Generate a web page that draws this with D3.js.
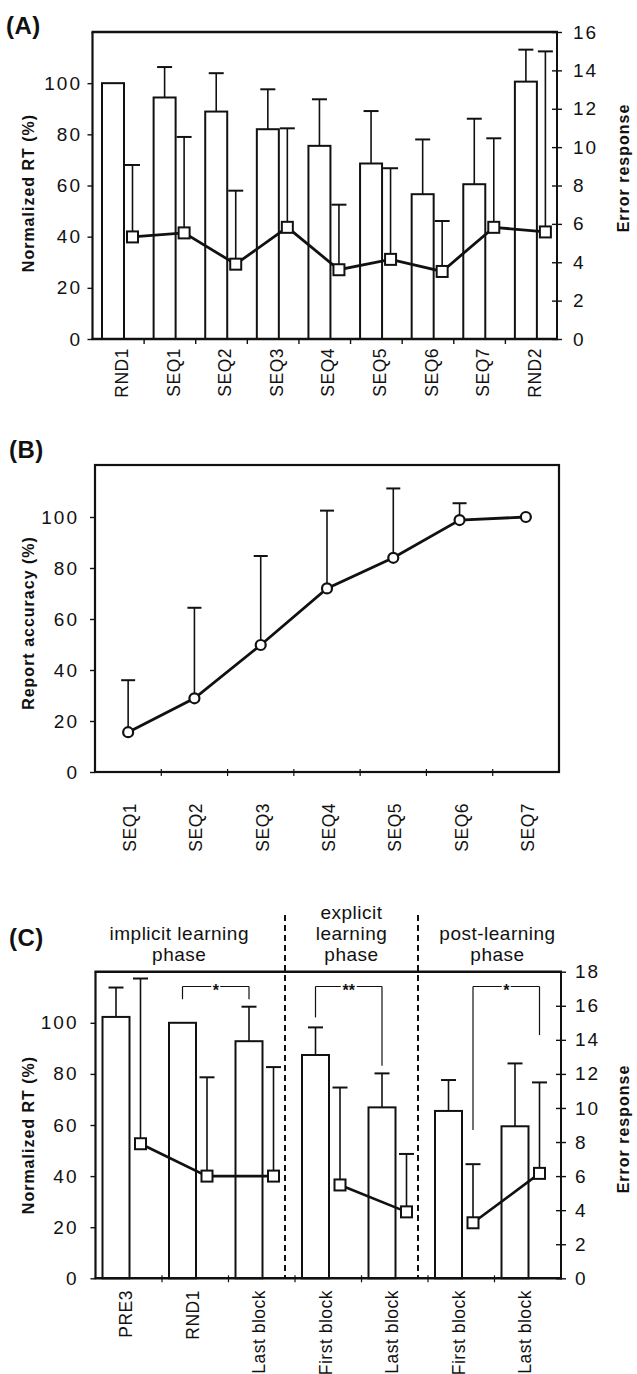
<!DOCTYPE html>
<html><head><meta charset="utf-8">
<script src="https://cdn.jsdelivr.net/npm/d3@7"></script>
<style>
body{margin:0;background:#fff}
svg{display:block}
text{font-family:"Liberation Sans",Arial,Helvetica,sans-serif}
</style>
</head><body>
<svg id="c" width="637" height="1374"></svg>
<script>
// ---------------- DATA ----------------
// Panel A
const catsA = ["RND1","SEQ1","SEQ2","SEQ3","SEQ4","SEQ5","SEQ6","SEQ7","RND2"];
const rtA   = [100, 94.4, 88.9, 82.0, 75.5, 68.6, 56.6, 60.5, 100.6];      // Normalized RT (%)
const rtSdA = [0, 11.9, 15.0, 15.6, 18.2, 20.5, 21.4, 25.6, 12.5];
const errA  = [5.32, 5.53, 3.9, 5.82, 3.61, 4.15, 3.52, 5.82, 5.58];       // Error response
const errSdA= [3.75, 5.0, 3.83, 5.16, 3.39, 4.75, 2.63, 4.64, 9.41];
const yTicksA  = [0,20,40,60,80,100];
const y2TicksA = [0,2,4,6,8,10,12,14,16];

// Panel B
const catsB  = ["SEQ1","SEQ2","SEQ3","SEQ4","SEQ5","SEQ6","SEQ7"];
const accB   = [15.6, 28.9, 49.8, 72.0, 84.0, 98.8, 100];                   // Report accuracy (%)
const accSdB = [20.4, 35.5, 34.9, 30.5, 27.2, 6.6, 0];
const yTicksB = [0,20,40,60,80,100];

// Panel C
const catsC  = ["PRE3","RND1","Last block","First block","Last block","First block","Last block"];
const rtC    = [102.3, 100, 92.8, 87.4, 66.9, 65.5, 59.5];
const rtSdC  = [11.5, 0, 13.5, 10.8, 13.3, 12.1, 24.6];
const errC   = [7.9, 6.0, 6.0, 5.48, 3.9, 3.26, 6.16];
const errSdC = [9.7, 5.8, 6.4, 5.72, 3.4, 3.44, 5.34];
const phaseNamesC = [["implicit learning","phase"],["explicit","learning","phase"],["post-learning","phase"]];
const phaseSizesC = [3,2,2];
const yTicksC  = [0,20,40,60,80,100];
const y2TicksC = [0,2,4,6,8,10,12,14,16,18];
// significance brackets (ends given in left-axis % units)
const sigFromC  = [1,3,5];
const sigToC    = [2,4,6];
const sigLabelC = ["*","**","*"];
const sigSeriesC= ["rt","rt","err"];
const sigFromEndC = [109.2, 102.1, 58];
const sigToEndC   = [109.2, 83.2, 95.2];
const sigTopC = 114.2;

// ---------------- DRAW ----------------
const ink = "#111";
const FONT = '"Liberation Sans",Arial,Helvetica,sans-serif';
const svg = d3.select("#c");
svg.append("rect").attr("width",637).attr("height",1374).attr("fill","#fff");

function line(g,x1,y1,x2,y2,w,dash){
  const l = g.append("line").attr("x1",x1).attr("y1",y1).attr("x2",x2).attr("y2",y2)
    .attr("stroke",ink).attr("stroke-width",w);
  if(dash) l.attr("stroke-dasharray",dash);
  return l;
}
function errBar(g,cx,y0,y1,cap){
  line(g,cx,y0,cx,y1,1.6);
  line(g,cx-cap,y1,cx+cap,y1,2);
}
function styleAxis(g,size,ls){
  g.attr("font-family",FONT).attr("font-size",size).attr("color",ink);
  g.select(".domain").remove();
  g.selectAll("text").attr("letter-spacing",ls);
  g.selectAll("line").attr("stroke-width",1.4);
}
function xLabels(g,cats,xf,y){
  g.selectAll("text.xl").data(cats).join("text").attr("class","xl")
    .attr("transform",(d,i)=>`translate(${xf(i)},${y}) rotate(-90)`)
    .attr("text-anchor","end").attr("font-size",17.5).attr("letter-spacing",0.5)
    .attr("fill",ink).text(d=>d);
}
function vTitle(x,y,txt,size){
  svg.append("text").attr("transform",`translate(${x},${y}) rotate(-90)`)
    .attr("text-anchor","middle").attr("font-weight","bold").attr("font-size",size)
    .attr("letter-spacing",1).attr("fill",ink).text(txt);
}
function panelLabel(x,y,t){
  svg.append("text").attr("x",x).attr("y",y).attr("font-weight","bold")
    .attr("font-size",24).attr("letter-spacing",0.5).attr("fill",ink).text(t);
}

// ===== Panel A =====
{
  const L=92.5,R=557,T=32,B=339;
  const g = svg.append("g");
  const x = d3.scaleBand().domain(d3.range(catsA.length)).range([L,R]);
  const y = d3.scaleLinear().domain([0,120]).range([B,T]);
  const y2 = d3.scaleLinear().domain([0,16]).range([B,T]);
  const barX = i=>x(i)+9.5, barW=22, sqX = i=>x(i)+40;

  g.selectAll("rect.bar").data(rtA).join("rect").attr("class","bar")
    .attr("x",(d,i)=>barX(i)).attr("width",barW)
    .attr("y",d=>y(d)).attr("height",d=>B-y(d))
    .attr("fill","#fff").attr("stroke",ink).attr("stroke-width",2);
  rtA.forEach((d,i)=>{ if(rtSdA[i]>0) errBar(g,barX(i)+barW/2,y(d),y(d+rtSdA[i]),7.5); });
  errA.forEach((d,i)=>{ if(errSdA[i]>0) errBar(g,sqX(i),y2(d),y2(d+errSdA[i]),7.5); });
  g.append("path").datum(errA)
    .attr("d",d3.line().x((d,i)=>sqX(i)).y(d=>y2(d)))
    .attr("fill","none").attr("stroke",ink).attr("stroke-width",2.8);
  g.selectAll("rect.sq").data(errA).join("rect").attr("class","sq")
    .attr("x",(d,i)=>sqX(i)-5.5).attr("y",d=>y2(d)-5.5).attr("width",11).attr("height",11)
    .attr("fill","#fff").attr("stroke",ink).attr("stroke-width",2);

  // frame
  line(g,L-1,T,R+1,T,2.6);
  line(g,L,T,L,B,2.2);
  line(g,R,T,R,B+1,2);
  line(g,L-1,B,R+1,B,2.6);
  d3.range(1,catsA.length).forEach(i=>line(g,x(i),B,x(i),B+5,1.4));

  const ga = svg.append("g").attr("transform",`translate(${L},0)`)
    .call(d3.axisLeft(y).tickValues(yTicksA).tickSize(5).tickPadding(5.5));
  styleAxis(ga,19,2);
  const gb = svg.append("g").attr("transform",`translate(${R},0)`)
    .call(d3.axisRight(y2).tickValues(y2TicksA).tickSize(5).tickPadding(11));
  styleAxis(gb,19,2);
  gb.selectAll(".tick line").attr("x1",-5);

  xLabels(g,catsA,i=>x(i)+35.5,348);
  vTitle(34,193,"Normalized RT (%)",16);
  vTitle(629,168,"Error response",16);
  panelLabel(6,34,"(A)");
}

// ===== Panel B =====
{
  const L=95,R=559,T=465,B=772;
  const g = svg.append("g");
  const x = d3.scaleBand().domain(d3.range(catsB.length)).range([L,R]);
  const y = d3.scaleLinear().domain([0,120]).range([B,T+1]);
  const cx = i=>x(i)+x.bandwidth()/2;

  accB.forEach((d,i)=>{ if(accSdB[i]>0) errBar(g,cx(i),y(d),y(d+accSdB[i]),7); });
  g.append("path").datum(accB)
    .attr("d",d3.line().x((d,i)=>cx(i)).y(d=>y(d)))
    .attr("fill","none").attr("stroke",ink).attr("stroke-width",2.8);
  g.selectAll("circle").data(accB).join("circle")
    .attr("cx",(d,i)=>cx(i)).attr("cy",d=>y(d)).attr("r",5)
    .attr("fill","#fff").attr("stroke",ink).attr("stroke-width",2.2);

  g.append("rect").attr("x",L).attr("y",T).attr("width",R-L).attr("height",B-T)
    .attr("fill","none").attr("stroke",ink).attr("stroke-width",2.2);
  d3.range(1,catsB.length).forEach(i=>line(g,x(i),B-3,x(i),B+4,1.2));

  const ga = svg.append("g").attr("transform",`translate(${L},0)`)
    .call(d3.axisLeft(y).tickValues(yTicksB).tickSize(5).tickPadding(11));
  styleAxis(ga,19,2);

  xLabels(g,catsB,i=>cx(i)+8,803);
  vTitle(34,623,"Report accuracy (%)",16);
  panelLabel(9,458,"(B)");
}

// ===== Panel C =====
{
  const L=95.5,R=561,T=971.7,B=1278.3;
  const g = svg.append("g");
  const x = d3.scaleBand().domain(d3.range(catsC.length)).range([L,R]);
  const y = d3.scaleLinear().domain([0,120]).range([B,T]);
  const y2 = d3.scaleLinear().domain([0,18]).range([B,T]);
  const barX = i=>x(i)+7, barW=27, sqX = i=>x(i)+45;
  const barC = i=>barX(i)+barW/2;

  g.selectAll("rect.bar").data(rtC).join("rect").attr("class","bar")
    .attr("x",(d,i)=>barX(i)).attr("width",barW)
    .attr("y",d=>y(d)).attr("height",d=>B-y(d))
    .attr("fill","#fff").attr("stroke",ink).attr("stroke-width",2);
  rtC.forEach((d,i)=>{ if(rtSdC[i]>0) errBar(g,barC(i),y(d),y(d+rtSdC[i]),7.5); });
  errC.forEach((d,i)=>{ if(errSdC[i]>0) errBar(g,sqX(i),y2(d),y2(d+errSdC[i]),7.5); });

  let start=0;
  const bounds=[];
  phaseSizesC.forEach((n,p)=>{
    const idx=d3.range(start,start+n);
    g.append("path").datum(idx)
      .attr("d",d3.line().x(i=>sqX(i)).y(i=>y2(errC[i])))
      .attr("fill","none").attr("stroke",ink).attr("stroke-width",2.6);
    bounds.push([start,start+n-1]);
    start+=n;
  });
  g.selectAll("rect.sq").data(errC).join("rect").attr("class","sq")
    .attr("x",(d,i)=>sqX(i)-5.5).attr("y",d=>y2(d)-5.5).attr("width",11).attr("height",11)
    .attr("fill","#fff").attr("stroke",ink).attr("stroke-width",2);

  line(g,L-1,T,R+1,T,2.6);
  line(g,L,T,L,B,2.2);
  line(g,R,T,R,B+1,2);
  line(g,L-1,B,R+1,B,2.6);
  d3.range(1,catsC.length).forEach(i=>line(g,x(i),B-3,x(i),B+4,1.2));

  const divX = [];
  bounds.slice(1).forEach(b=>{
    const dx = x(b[0])-10;
    divX.push(dx);
    line(g,dx,915,dx,B,2,"6,4");
  });
  const edges=[L,...divX,R];
  const hdDx=[-11,0,8];
  phaseNamesC.forEach((lines,p)=>{
    const cxh=(edges[p]+edges[p+1])/2+hdDx[p];
    lines.forEach((t,k)=>{
      svg.append("text").attr("x",cxh).attr("y",961-(lines.length-1-k)*21)
        .attr("text-anchor","middle").attr("font-size",19).attr("letter-spacing",0.5)
        .attr("fill",ink).text(t);
    });
  });

  sigFromC.forEach((a,k)=>{
    const b=sigToC[k];
    const xa = sigSeriesC[k]==="rt"?barC(a):sqX(a);
    const xb = sigSeriesC[k]==="rt"?barC(b):sqX(b);
    const yt=y(sigTopC);
    line(g,xa,yt,xb,yt,1.2);
    line(g,xa,yt,xa,y(sigFromEndC[k]),1.2);
    line(g,xb,yt,xb,y(sigToEndC[k]),1.2);
    const mx=(xa+xb)/2, w=sigLabelC[k].length*7+2;
    g.append("rect").attr("x",mx-w/2).attr("y",yt-3).attr("width",w).attr("height",6).attr("fill","#fff");
    g.append("text").attr("x",mx).attr("y",yt+9).attr("text-anchor","middle")
      .attr("font-size",16).attr("font-weight","bold").attr("fill",ink).text(sigLabelC[k]);
  });

  const ga = svg.append("g").attr("transform",`translate(${L},0)`)
    .call(d3.axisLeft(y).tickValues(yTicksC).tickSize(5).tickPadding(12));
  styleAxis(ga,19,2);
  const gb = svg.append("g").attr("transform",`translate(${R},0)`)
    .call(d3.axisRight(y2).tickValues(y2TicksC).tickSize(5).tickPadding(9));
  styleAxis(gb,19,2);
  gb.selectAll(".tick line").attr("x1",-5);

  xLabels(g,catsC,i=>x(i)+36.5,1290);
  vTitle(34,1135,"Normalized RT (%)",16);
  vTitle(629,1129,"Error response",16);
  panelLabel(9,946,"(C)");
}
</script>
</body></html>
